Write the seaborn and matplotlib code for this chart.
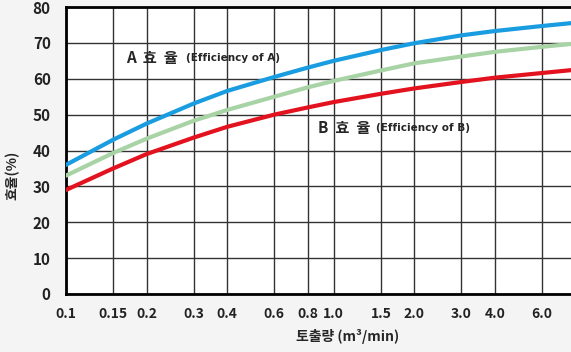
import numpy as np
import pandas as pd
import matplotlib
matplotlib.use("Agg")
import matplotlib.pyplot as plt
import seaborn as sns

# flow rate (m3/min) and efficiency curves
flow = [0.1, 0.15, 0.2, 0.3, 0.4, 0.6, 0.8, 1.0, 1.5, 2.0, 3.0, 4.0, 6.0, 7.7]
eff_a = [36.0, 43.0, 47.5, 53.1, 56.6, 60.5, 63.1, 65.0, 68.0, 69.9, 72.1, 73.3, 74.7, 75.5]
eff_mid = [33.0, 39.3, 43.3, 48.3, 51.3, 55.0, 57.6, 59.4, 62.3, 64.3, 66.2, 67.5, 68.9, 69.7]
eff_b = [29.0, 35.0, 39.0, 43.6, 46.6, 50.0, 52.0, 53.5, 55.8, 57.3, 59.1, 60.3, 61.6, 62.4]

xticks = [0.1, 0.15, 0.2, 0.3, 0.4, 0.6, 0.8, 1.0, 1.5, 2.0, 3.0, 4.0, 6.0]
xtick_labels = ["0.1", "0.15", "0.2", "0.3", "0.4", "0.6", "0.8", "1.0",
                "1.5", "2.0", "3.0", "4.0", "6.0"]
yticks = [0, 10, 20, 30, 40, 50, 60, 70, 80]

series = {"A": eff_a, "mid": eff_mid, "B": eff_b}
colors = {"A": "#1a9de0", "mid": "#a8d3a5", "B": "#e3121f"}

df = pd.concat(
    [pd.DataFrame({"flow": flow, "eff": v, "curve": k}) for k, v in series.items()],
    ignore_index=True,
)

sns.set_style("white")
plt.rcParams["font.family"] = ["Noto Sans CJK KR", "DejaVu Sans"]

fig = plt.figure(figsize=(5.71, 3.52), dpi=100, facecolor="#f4f4f4")
ax = fig.add_axes([66 / 571, 1 - 294 / 352, 1 - 66 / 571, 287 / 352])
ax.set_facecolor("white")

sns.lineplot(data=df, x="flow", y="eff", hue="curve", palette=colors,
             linewidth=3.0, legend=False, ax=ax, zorder=3)

ax.set_xscale("log")
ax.set_xlim(0.1, 7.7)
ax.set_ylim(0, 80)
ax.set_xticks(xticks)
ax.set_xticklabels(xtick_labels)
ax.minorticks_off()
ax.set_yticks(yticks)
ax.tick_params(length=0, labelsize=10, pad=9)
ax.tick_params(axis="y", labelsize=11, pad=11)
for t in ax.get_xticklabels() + ax.get_yticklabels():
    t.set_fontweight("bold")
    t.set_color("#222222")

ax.grid(True, color="#333333", linewidth=1.0)
for side in ["left", "bottom", "top"]:
    ax.spines[side].set_visible(True)
    ax.spines[side].set_color("black")
    ax.spines[side].set_linewidth(2.0)
ax.spines["right"].set_visible(False)
ax.set_xlabel("")
ax.set_ylabel("")

# curve labels
ax.text(0.168, 65.8, "A  효  율", fontsize=11, fontweight="bold", va="center")
ax.text(0.28, 65.8, "(Efficiency of A)", fontsize=7.5, fontweight="bold",
        va="center", family="DejaVu Sans")
ax.text(0.87, 46.3, "B  효  율", fontsize=11, fontweight="bold", va="center")
ax.text(1.44, 46.3, "(Efficiency of B)", fontsize=7.5, fontweight="bold",
        va="center", family="DejaVu Sans")

fig.text(12 / 571, 1 - 175 / 352, "효율(%)", rotation=90, ha="center",
         va="center", fontsize=10, fontweight="bold")
fig.text(348 / 571, 1 - 336 / 352, "토출량 (m³/min)", ha="center",
         va="center", fontsize=10, fontweight="bold")

fig.savefig("out.png", dpi=100, facecolor=fig.get_facecolor())
